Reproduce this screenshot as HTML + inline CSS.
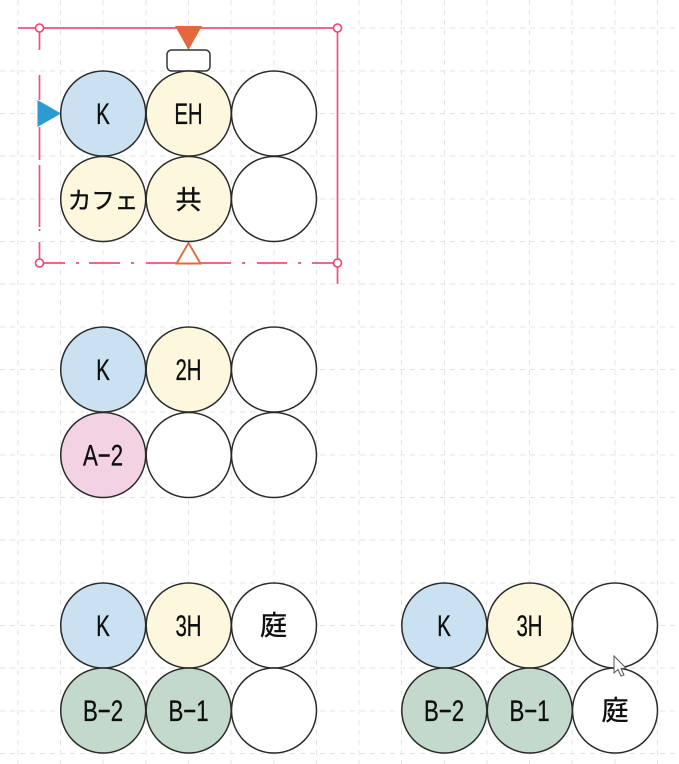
<!DOCTYPE html>
<html lang="ja">
<head>
<meta charset="utf-8">
<style>
html,body{margin:0;padding:0;background:#fff;width:679px;height:764px;overflow:hidden}
svg{display:block}
.g{stroke:#e4e4e4;stroke-width:1;stroke-dasharray:5 5;fill:none}
.c{stroke:#2a2a2a;stroke-width:1.5}
.p{stroke:#f0507a;stroke-width:1.7;fill:none}
.h{stroke:#f04070;stroke-width:1.6;fill:#fff}
text{font-family:"Liberation Sans","Noto Sans CJK JP",sans-serif;font-size:30px;fill:#0e0e0e;stroke:#0e0e0e;stroke-width:.3px;text-anchor:middle}
.j{font-family:"Noto Sans CJK JP","Liberation Sans",sans-serif;font-size:27px;stroke-width:.4px}
</style>
</head>
<body>
<svg width="679" height="764" viewBox="0 0 679 764" xmlns="http://www.w3.org/2000/svg" style="filter:blur(.3px)">
<!-- grid -->
<g class="g">
<path d="M18 0V764M60.500 0V764M103 0V764M146 0V764M188.500 0V764M231 0V764M274 0V764M316.500 0V764M359 0V764M401.500 0V764M444.500 0V764M487 0V764M529.500 0V764M572 0V764M615 0V764M657.500 0V764"/>
<path d="M340 28H679M0 71H679M0 113.500H679M0 156H679M0 199H679M0 241.500H679M0 284H679M0 327H679M0 369.500H679M0 412H679M0 455H679M0 497.500H679M0 540H679M0 583H679M0 625.500H679M0 668H679M0 711H679M0 753.500H679"/>
</g>

<!-- pink selection frame -->
<path class="p" d="M18 28H337"/>
<path class="p" d="M337.500 28V284"/>
<path class="p" d="M39.500 28V50M39.500 75V100M39.500 127V160M39.500 165V227M39.500 229V231M39.500 242V263"/>
<path class="p" d="M39.500 263H65M76 263H79M89 263H120M131 263H134M146 263H231M242 263H245M257 263H287M298 263H301M312 263H337"/>
<circle class="h" cx="39.500" cy="28" r="4"/>
<circle class="h" cx="337.500" cy="28" r="4"/>
<circle class="h" cx="39.500" cy="263" r="4"/>
<circle class="h" cx="337.500" cy="263" r="4"/>

<!-- markers -->
<polygon points="175,26 202,26 188.500,50" fill="#e4693a"/>
<polygon points="37.500,100 61,113.500 37.500,127" fill="#2b9bd1"/>
<polygon points="176.500,263.500 200.500,263.500 188.500,243" fill="#fff" stroke="#e4693a" stroke-width="1.900"/>
<rect x="167" y="50" width="43" height="21" rx="4.500" fill="#fff" stroke="#333" stroke-width="1.500"/>

<!-- group 1 -->
<circle class="c" cx="103.200" cy="113.500" r="42.500" fill="#c9e1f0"/>
<circle class="c" cx="188.700" cy="113.500" r="42.500" fill="#fdf7de"/>
<circle class="c" cx="274" cy="113.500" r="42.500" fill="#fff"/>
<circle class="c" cx="103.200" cy="199" r="42.500" fill="#fdf7de"/>
<circle class="c" cx="188.700" cy="199" r="42.500" fill="#fdf7de"/>
<circle class="c" cx="274" cy="199" r="42.500" fill="#fff"/>
<text transform="translate(103 124) scale(.68 1)">K</text>
<text transform="translate(188.500 124) scale(.68 1)">EH</text>
<text class="j" transform="translate(103 208.500)" style="font-size:23.500px">カフェ</text>
<text class="j" transform="translate(188.500 209)" style="font-size:26px">共</text>

<!-- group 2 -->
<circle class="c" cx="103.200" cy="369.500" r="42.500" fill="#c9e1f0"/>
<circle class="c" cx="188.700" cy="369.500" r="42.500" fill="#fdf7de"/>
<circle class="c" cx="274" cy="369.500" r="42.500" fill="#fff"/>
<circle class="c" cx="103.200" cy="455" r="42.500" fill="#f3d2e4"/>
<circle class="c" cx="188.700" cy="455" r="42.500" fill="#fff"/>
<circle class="c" cx="274" cy="455" r="42.500" fill="#fff"/>
<text transform="translate(103 380) scale(.68 1)">K</text>
<text transform="translate(188.500 380) scale(.68 1)">2H</text>
<text transform="translate(103 465.500) scale(.74 1)">A−2</text>

<!-- group 3 -->
<circle class="c" cx="103.200" cy="625.500" r="42.500" fill="#c9e1f0"/>
<circle class="c" cx="188.700" cy="625.500" r="42.500" fill="#fdf7de"/>
<circle class="c" cx="274" cy="625.500" r="42.500" fill="#fff"/>
<circle class="c" cx="103.200" cy="710.500" r="42.500" fill="#c3d9cc"/>
<circle class="c" cx="188.700" cy="710.500" r="42.500" fill="#c3d9cc"/>
<circle class="c" cx="274" cy="710.500" r="42.500" fill="#fff"/>
<text transform="translate(103 636) scale(.68 1)">K</text>
<text transform="translate(188.500 636) scale(.68 1)">3H</text>
<text class="j" transform="translate(273.500 635)">庭</text>
<text transform="translate(103 721) scale(.74 1)">B−2</text>
<text transform="translate(188.500 721) scale(.74 1)">B−1</text>

<!-- group 4 -->
<circle class="c" cx="444.300" cy="625.500" r="42.500" fill="#c9e1f0"/>
<circle class="c" cx="529.800" cy="625.500" r="42.500" fill="#fdf7de"/>
<circle class="c" cx="615" cy="625.500" r="42.500" fill="#fff"/>
<circle class="c" cx="444.300" cy="710.500" r="42.500" fill="#c3d9cc"/>
<circle class="c" cx="529.800" cy="710.500" r="42.500" fill="#c3d9cc"/>
<circle class="c" cx="615" cy="710.500" r="42.500" fill="#fff"/>
<text transform="translate(444 636) scale(.68 1)">K</text>
<text transform="translate(529.500 636) scale(.68 1)">3H</text>
<text transform="translate(444 721) scale(.74 1)">B−2</text>
<text transform="translate(529.500 721) scale(.74 1)">B−1</text>
<text class="j" transform="translate(615 720)">庭</text>

<!-- cursor -->
<polygon points="614,656 614,673 618,669.500 621,676 624,675 621,668.500 626,668" fill="#fff" stroke="#555" stroke-width="1"/>
</svg>
</body>
</html>
